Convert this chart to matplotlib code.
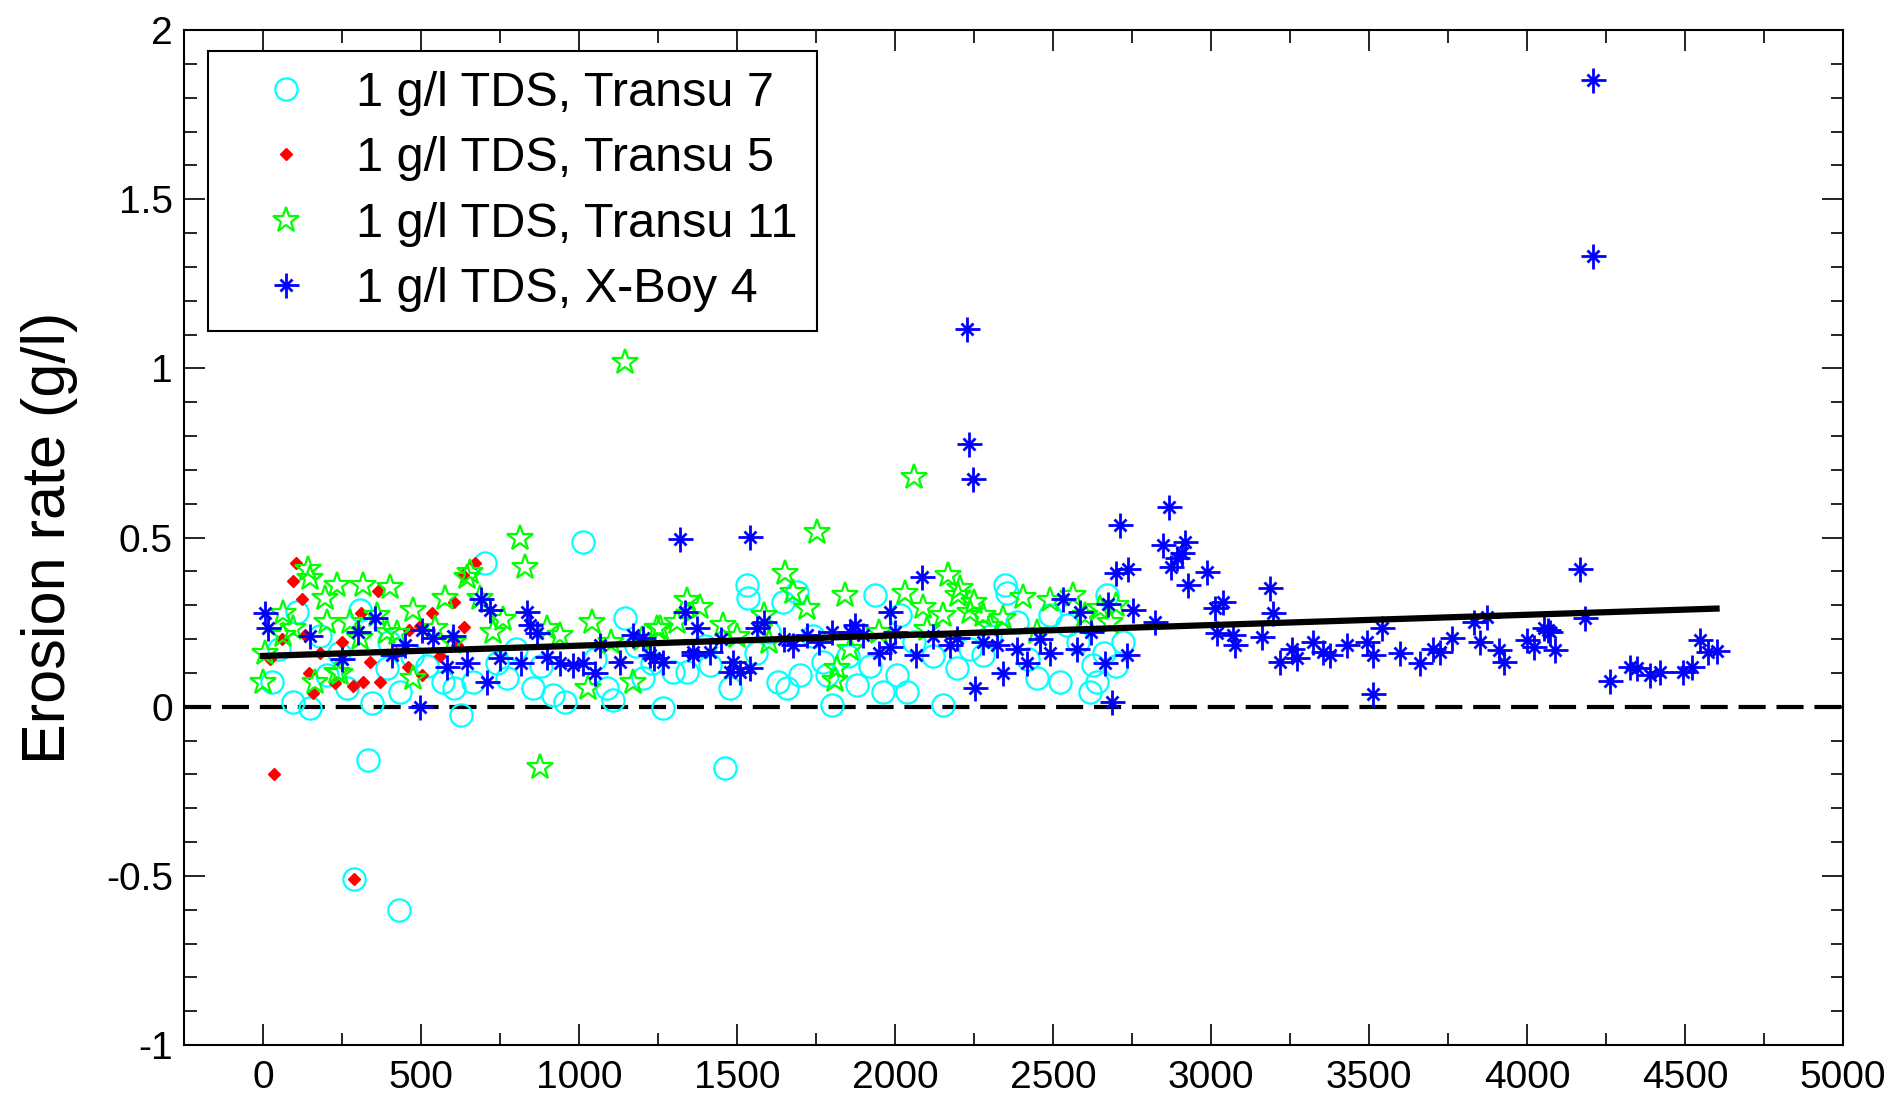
import numpy as np
import matplotlib
matplotlib.use('Agg')
import matplotlib.pyplot as plt
from matplotlib.legend_handler import HandlerTuple

plt.rcParams['font.family'] = ['Liberation Sans', 'DejaVu Sans']

# ---- data ----
# 1 g/l TDS, Transu 7 (cyan circles)
t7_x = [1014, 702, 1146, 27, 96, 149, 344, 628, 1267, 1109, 956, 333, 107, 307, 265, 434, 571, 603,
        771, 856, 919, 1204, 1341, 666, 1088, 201, 391, 288, 430,
        1531, 1536, 1689, 1647, 1937, 2348, 2353, 1462, 1800, 2153, 1631, 1657, 1700, 1773, 1784,
        1879, 1963, 2006, 2037, 1478, 1415, 1299, 2237, 2195, 2279, 2448, 2522, 2617, 2638, 2627,
        2722, 2385, 2543, 2670, 2490, 2016,
        50, 180, 240, 400, 470, 520, 740, 800, 880, 1050, 1180, 1230, 1400, 1560, 1600, 1740,
        1850, 1920, 2060, 2120, 2300, 2420, 2580, 2660, 2700]
t7_y = [0.488, 0.424, 0.261, 0.074, 0.015, -0.005, 0.010, -0.025, -0.005, 0.020, 0.015, -0.158, 0.281,
        0.286, 0.054, 0.044, 0.074, 0.054, 0.084, 0.054, 0.034, 0.084, 0.103, 0.074, 0.054, 0.094,
        0.113, -0.51, -0.60,
        0.360, 0.320, 0.340, 0.310, 0.330, 0.360, 0.335, -0.182, 0.005, 0.005, 0.074, 0.054, 0.094,
        0.133, 0.094, 0.064, 0.044, 0.094, 0.044, 0.054, 0.123, 0.103, 0.172, 0.113, 0.153, 0.084,
        0.074, 0.044, 0.074, 0.123, 0.192, 0.251, 0.241, 0.330, 0.271, 0.271,
        0.17, 0.21, 0.16, 0.19, 0.15, 0.12, 0.13, 0.17, 0.12, 0.14, 0.18, 0.13, 0.18, 0.16, 0.22, 0.21,
        0.15, 0.12, 0.19, 0.15, 0.21, 0.14, 0.19, 0.16, 0.12]

# 1 g/l TDS, Transu 5 (red dots)
t5_x = [103, 96, 122, 133, 146, 159, 22, 364, 309, 339, 317, 284, 228, 370, 462, 534, 497, 602, 636,
        460, 502, 613, 671, 35, 288, 633, 605, 60, 180, 250, 420, 560]
t5_y = [0.426, 0.372, 0.318, 0.212, 0.10, 0.041, 0.14, 0.342, 0.276, 0.133, 0.074, 0.062, 0.071, 0.074,
        0.227, 0.278, 0.240, 0.207, 0.237, 0.118, 0.094, 0.182, 0.426, -0.199, -0.51, 0.39, 0.31,
        0.20, 0.16, 0.19, 0.16, 0.15]

# 1 g/l TDS, Transu 11 (green stars)
t11_x = [813, 829, 143, 149, 233, 317, 402, 196, 64, 5, 1, 165, 244, 476, 576, 645, 655, 544, 687, 729,
         1040, 940, 898, 877, 1030, 1172, 1256, 1341, 1309, 96, 201, 275, 360, 391, 64, 476, 233, 307,
         423, 1147,
         1752, 1652, 1678, 1720, 1842, 1816, 1810, 1383, 1457, 1584, 2032, 2090, 2169, 2206, 2238,
         2153, 2406, 2490, 2564, 2343, 2649, 2280, 1246, 1858, 2060,
         1100, 1500, 1600, 1950, 2100, 2200, 2250, 2300, 2450, 2600, 2700, 2680, 1200, 760, 600]
t11_y = [0.498, 0.414, 0.407, 0.379, 0.360, 0.360, 0.355, 0.320, 0.276, 0.158, 0.074, 0.074, 0.099,
         0.286, 0.320, 0.384, 0.399, 0.232, 0.320, 0.222, 0.251, 0.212, 0.232, -0.177, 0.054, 0.074,
         0.232, 0.315, 0.251, 0.232, 0.251, 0.251, 0.271, 0.222, 0.212, 0.084, 0.103, 0.202, 0.217,
         1.02,
         0.517, 0.394, 0.340, 0.291, 0.330, 0.113, 0.079, 0.296, 0.241, 0.271, 0.335, 0.296, 0.389,
         0.350, 0.281, 0.271, 0.325, 0.315, 0.330, 0.261, 0.291, 0.271, 0.232, 0.172, 0.68,
         0.19, 0.21, 0.19, 0.22, 0.23, 0.33, 0.31, 0.24, 0.22, 0.27, 0.30, 0.25, 0.20, 0.26, 0.19]

# 1 g/l TDS, X-Boy 4 (blue asterisks)
xb_x = [6, 17, 354, 690, 719, 834, 845, 866, 502, 539, 581, 645, 708, 497, 750, 818, 898, 1014, 1067,
        1172, 1225, 1320, 1335, 1361, 407, 449, 982, 1130, 1204,
        1541, 2712, 2700, 2738, 2085, 1984, 2533, 2585, 2675, 2754, 2733, 2664, 2686, 2253, 2343,
        2417, 2491, 2385, 2174, 2195, 2068, 1984, 1873, 1858, 1900, 1721, 1678, 1563, 1584, 1488,
        1509, 1477, 1541, 1373, 1362, 1415, 1236, 1267, 2575, 2322,
        2229, 2233, 2248, 4209, 4209,
        2867, 2849, 2918, 2891, 2875, 2907, 2928, 2987, 2823, 3013, 3039, 3018, 3071, 3076, 3161,
        3187, 3197, 3218, 3255, 3271, 3324, 3356, 3377, 3430, 3493, 3514, 3540, 3514, 3599, 3662,
        3704, 3725, 3762, 3831, 3873, 3852, 3910, 3926, 4000, 4021, 4053, 4068, 4089, 4168, 4184,
        4073, 4262, 4326, 4347, 4389, 4421, 4495, 4521, 4548, 4574, 4600,
        1760, 1800, 1950, 2120, 2280, 2460, 2620, 2000, 1650, 1450, 940, 1050, 600, 300, 150, 250]
xb_y = [0.278, 0.232, 0.261, 0.318, 0.286, 0.279, 0.241, 0.217, 0.227, 0.202, 0.118, 0.128, 0.074, 0.0,
        0.143, 0.128, 0.148, 0.128, 0.182, 0.212, 0.153, 0.496, 0.279, 0.153, 0.153, 0.182, 0.123,
        0.133, 0.202,
        0.503, 0.537, 0.394, 0.407, 0.382, 0.281, 0.318, 0.281, 0.303, 0.286, 0.153, 0.128, 0.015,
        0.054, 0.099, 0.128, 0.158, 0.172, 0.182, 0.202, 0.153, 0.177, 0.241, 0.222, 0.212, 0.212,
        0.182, 0.232, 0.251, 0.133, 0.103, 0.103, 0.113, 0.232, 0.163, 0.163, 0.143, 0.133, 0.172,
        0.182,
        1.116, 0.776, 0.672, 1.853, 1.331,
        0.591, 0.478, 0.488, 0.439, 0.414, 0.453, 0.360, 0.399, 0.251, 0.291, 0.310, 0.217, 0.212,
        0.182, 0.207, 0.350, 0.276, 0.133, 0.172, 0.143, 0.192, 0.163, 0.153, 0.182, 0.192, 0.153,
        0.232, 0.037, 0.158, 0.128, 0.172, 0.163, 0.202, 0.251, 0.266, 0.192, 0.168, 0.133, 0.197,
        0.177, 0.232, 0.227, 0.168, 0.406, 0.261,
        0.222, 0.077, 0.118, 0.113, 0.094, 0.102, 0.103, 0.118, 0.197, 0.163, 0.165,
        0.19, 0.22, 0.16, 0.21, 0.19, 0.20, 0.22, 0.22, 0.20, 0.20, 0.13, 0.10, 0.21, 0.22, 0.21, 0.14]

# fitted trend line end points
fit_x = [0, 4600]
fit_y = [0.15, 0.29]

labels = ['1 g/l TDS, Transu 7', '1 g/l TDS, Transu 5', '1 g/l TDS, Transu 11', '1 g/l TDS, X-Boy 4']

fig = plt.figure(figsize=(18.97, 11.04), dpi=100)
ax = fig.add_axes([0.097, 0.0534, 0.8745, 0.9194])

ax.axhline(0, color='k', lw=3, dashes=(6.5, 2.6), zorder=1)

h1, = ax.plot(t7_x, t7_y, 'o', ls='none', mfc='none', mec=(0, 1, 1), ms=16, mew=1.6, zorder=2)
h2, = ax.plot(t5_x, t5_y, 'D', ls='none', mfc=(1, 0, 0), mec=(1, 0, 0), ms=6.5, zorder=3)
h3, = ax.plot(t11_x, t11_y, '*', ls='none', mfc='none', mec=(0, 1, 0), ms=19, mew=1.6, zorder=4)
h4a, = ax.plot(xb_x, xb_y, '+', ls='none', color=(0, 0, 1), ms=18, mew=2.0, zorder=5)
h4b, = ax.plot(xb_x, xb_y, 'x', ls='none', color=(0, 0, 1), ms=9, mew=2.0, zorder=5)

ax.plot(fit_x, fit_y, color='k', lw=4.5, zorder=6)

ax.set_xlim(-250, 5000)
ax.set_ylim(-1, 2)
ax.set_xticks(np.arange(0, 5001, 500))
ax.set_xticks(np.arange(250, 5000, 500), minor=True)
ax.set_yticks([-1, -0.5, 0, 0.5, 1, 1.5, 2])
ax.set_yticklabels(['-1', '-0.5', '0', '0.5', '1', '1.5', '2'])
ax.set_yticks(np.arange(-1, 2.01, 0.1), minor=True)
ax.tick_params(which='both', direction='in', top=True, right=True, width=1.2)
ax.tick_params(which='major', length=15, labelsize=28)
ax.tick_params(axis='x', which='major', pad=11)
ax.tick_params(axis='y', which='major', pad=8)
ax.tick_params(which='minor', length=9)
for s in ax.spines.values():
    s.set_linewidth(1.5)

ax.set_ylabel('Erosion rate (g/l)', fontsize=44, labelpad=20)

leg = ax.legend([h1, h2, h3, (h4a, h4b)], labels, loc='upper left',
                bbox_to_anchor=(0.0145, 0.979), borderaxespad=0, fontsize=35,
                handler_map={tuple: HandlerTuple(ndivide=1)}, numpoints=1,
                handlelength=2.4, handletextpad=0.25, borderpad=0.4, labelspacing=0.42,
                fancybox=False, edgecolor='k', framealpha=1)
leg.get_frame().set_linewidth(1.5)

fig.savefig('out.png', dpi=100)
